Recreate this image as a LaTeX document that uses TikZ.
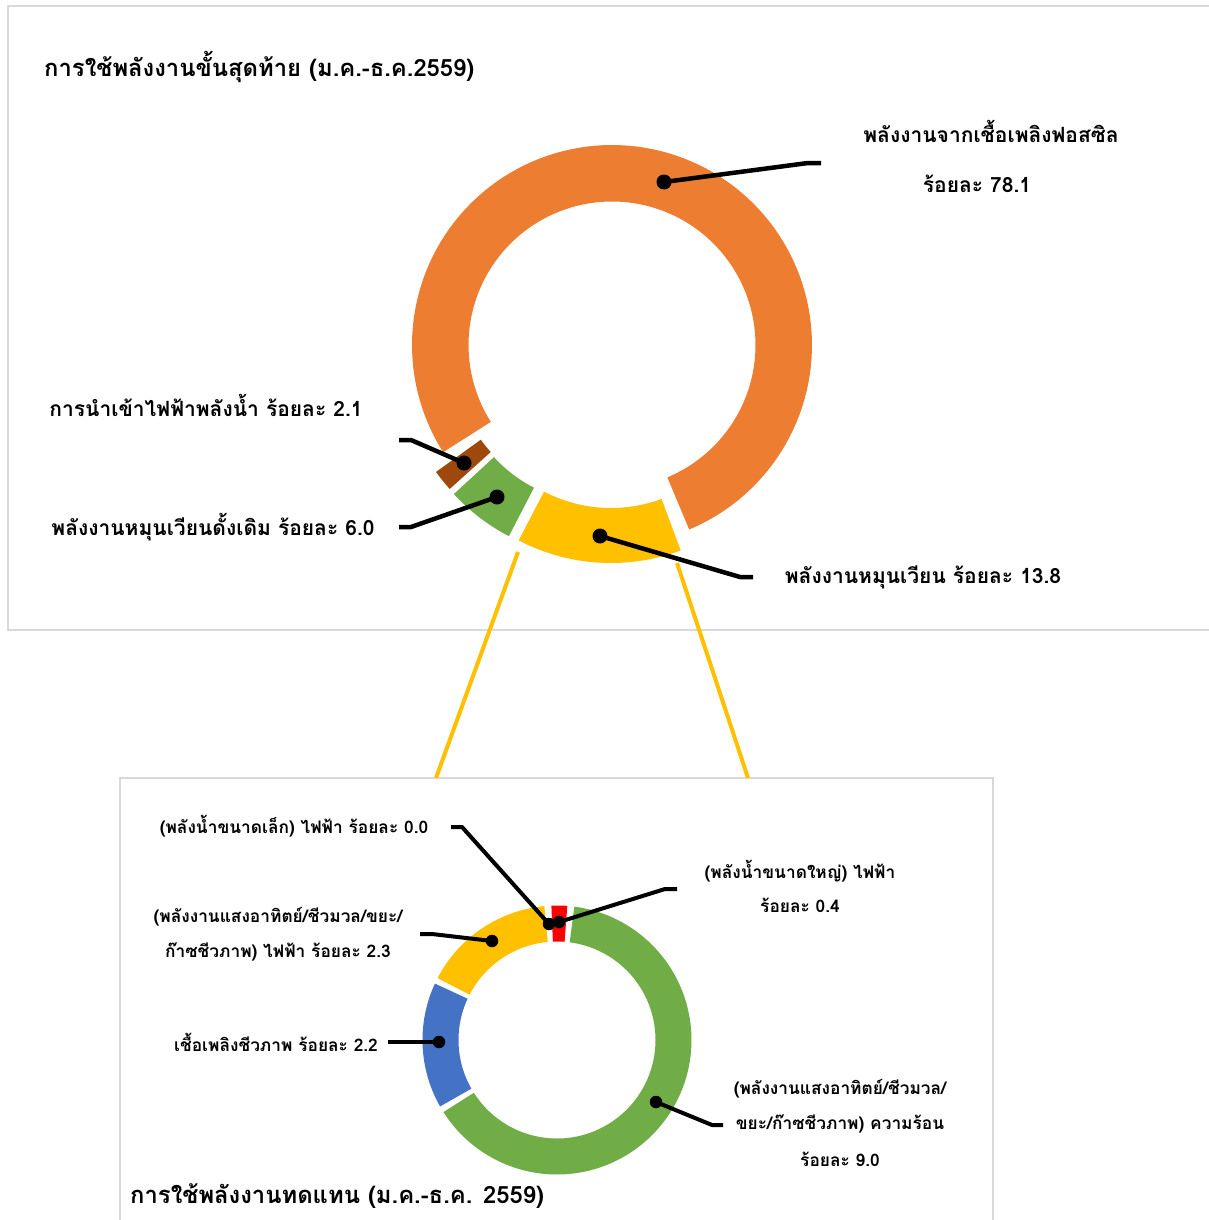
\documentclass[tikz,border=0pt]{standalone}
\usepackage{fontspec}
\newfontfamily\thai[Script=Thai]{Loma}
\definecolor{cOrange}{HTML}{ED7D31}
\definecolor{cBrown}{HTML}{9E480E}
\definecolor{cGreen}{HTML}{70AD47}
\definecolor{cYellow}{HTML}{FFC000}
\definecolor{cBlue}{HTML}{4472C4}
\definecolor{cRed}{HTML}{FF0000}
\definecolor{cFrame}{HTML}{D9D9D9}
\newcommand\ringseg[7]{%
  \fill[#1] plot[domain=#6:#7,samples=120] ({#2+#4*cos(\x)},{#3-#4*sin(\x)})
    -- plot[domain=#7:#6,samples=120] ({#2+#5*cos(\x)},{#3-#5*sin(\x)}) -- cycle;}
\begin{document}
\begin{tikzpicture}[x=1pt,y=-1pt,
  frame/.style={draw=cFrame,line width=1.5pt},
  leader/.style={draw=black,line width=4.5pt,line join=round},
  leadersm/.style={draw=black,line width=4pt,line join=round},
  dotbig/.style={circle,fill=black,inner sep=0pt,minimum size=15pt},
  dotsm/.style={circle,fill=black,inner sep=0pt,minimum size=12.5pt},
  zoomline/.style={draw=cYellow,line width=4pt},
  bigtxt/.style={font=\thai\bfseries\fontsize{21}{24}\selectfont,inner sep=0pt,align=center},
  smtxt/.style={font=\thai\bfseries\fontsize{17.3}{20}\selectfont,inner sep=0pt,align=center},
  titletxt/.style={font=\thai\bfseries\fontsize{23.8}{27}\selectfont,inner sep=0pt,anchor=west}]
\useasboundingbox (0,0) rectangle (1209,1220);
\fill[white] (0,0) rectangle (1209,1220);
% frames
\draw[frame] (8,6) rectangle (1218,630);
\draw[frame] (120,778) rectangle (993,1230);
% zoom lines
\coordinate (zl1) at (518,552); \coordinate (zl2) at (436,778);
\coordinate (zr1) at (677,563); \coordinate (zr2) at (748,778);
\draw[zoomline] (zl1) -- (zl2);
\draw[zoomline] (zr1) -- (zr2);
% top ring
\ringseg{cOrange}{612}{345}{200}{143.5}{-67.3}{212.4}
\ringseg{cYellow}{611}{363}{200}{145}{-117.5}{-69.6}
\ringseg{cGreen}{600.7}{359}{199.5}{145}{-137.4}{-117.4}
\ringseg{cBrown}{597.6}{355.8}{199}{143.8}{-144.3}{-138}
% bottom ring
\ringseg{cGreen}{557}{1040}{134.5}{98.5}{-147.6}{82.6}
\ringseg{cBlue}{557}{1040}{134.5}{98.5}{155.2}{209.6}
\ringseg{cYellow}{557}{1040}{134.5}{98.5}{95.4}{152.6}
\ringseg{cRed}{557}{1040}{134.5}{98.5}{85.6}{92.4}
% titles
\node[titletxt] (t1) at (44,67) {การใช้พลังงานขั้นสุดท้าย (ม.ค.-ธ.ค.2559)};
\node[titletxt] (t2) at (130,1196) {การใช้พลังงานทดแทน (ม.ค.-ธ.ค. 2559)};
% top labels
\node[bigtxt] (lf1) at (991,131) {พลังงานจากเชื้อเพลิงฟอสซิล};
\node[bigtxt] (lf2) at (977,184) {ร้อยละ 78.1};
\node[bigtxt] (lh) at (206,405) {การนำเข้าไฟฟ้าพลังน้ำ ร้อยละ 2.1};
\node[bigtxt] (lt) at (213,527) {พลังงานหมุนเวียนดั้งเดิม ร้อยละ 6.0};
\node[bigtxt] (lr) at (923,577) {พลังงานหมุนเวียน ร้อยละ 13.8};
% top dots and leaders
\node[dotbig] (df) at (664,182) {};
\node[dotbig] (dh) at (464,463) {};
\node[dotbig] (dt) at (497,497) {};
\node[dotbig] (dr) at (600,536) {};
\coordinate (ef1) at (808,163); \coordinate (ef2) at (821,163);
\coordinate (eh1) at (411,440); \coordinate (eh2) at (399,440);
\coordinate (et1) at (411,527); \coordinate (et2) at (399,527);
\coordinate (er1) at (740,577); \coordinate (er2) at (753,577);
\draw[leader] (df.center) -- (ef1) -- (ef2);
\draw[leader] (dh.center) -- (eh1) -- (eh2);
\draw[leader] (dt.center) -- (et1) -- (et2);
\draw[leader] (dr.center) -- (er1) -- (er2);
% bottom labels
\node[smtxt] (ls) at (294,826) {(พลังน้ำขนาดเล็ก) ไฟฟ้า ร้อยละ 0.0};
\node[smtxt] (ll1) at (800,871) {(พลังน้ำขนาดใหญ่) ไฟฟ้า};
\node[smtxt] (ll2) at (800,905) {ร้อยละ 0.4};
\node[smtxt] (le1) at (278,917) {(พลังงานแสงอาทิตย์/ชีวมวล/ขยะ/};
\node[smtxt] (le2) at (278,952) {ก๊าซชีวภาพ) ไฟฟ้า ร้อยละ 2.3};
\node[smtxt] (lb) at (276,1042) {เชื้อเพลิงชีวภาพ ร้อยละ 2.2};
\node[smtxt] (lq1) at (840,1089) {(พลังงานแสงอาทิตย์/ชีวมวล/};
\node[smtxt] (lq2) at (840,1124) {ขยะ/ก๊าซชีวภาพ) ความร้อน};
\node[smtxt] (lq3) at (840,1159) {ร้อยละ 9.0};
% bottom dots and leaders
\node[dotsm] (ds) at (549,924) {};
\node[dotsm] (dl) at (559,922) {};
\node[dotsm] (de) at (492,941) {};
\node[dotsm] (db) at (439,1042) {};
\node[dotsm] (dq) at (656,1102) {};
\coordinate (es1) at (462,827); \coordinate (es2) at (451,827);
\coordinate (el1) at (665,889); \coordinate (el2) at (677,889);
\coordinate (ee1) at (432,934); \coordinate (ee2) at (420,934);
\coordinate (eb1) at (388,1042);
\coordinate (eq1) at (712,1125); \coordinate (eq2) at (723,1125);
\draw[leadersm] (ds.center) -- (es1) -- (es2);
\draw[leadersm] (dl.center) -- (el1) -- (el2);
\draw[leadersm] (de.center) -- (ee1) -- (ee2);
\draw[leadersm] (db.center) -- (eb1);
\draw[leadersm] (dq.center) -- (eq1) -- (eq2);
\end{tikzpicture}
\end{document}
